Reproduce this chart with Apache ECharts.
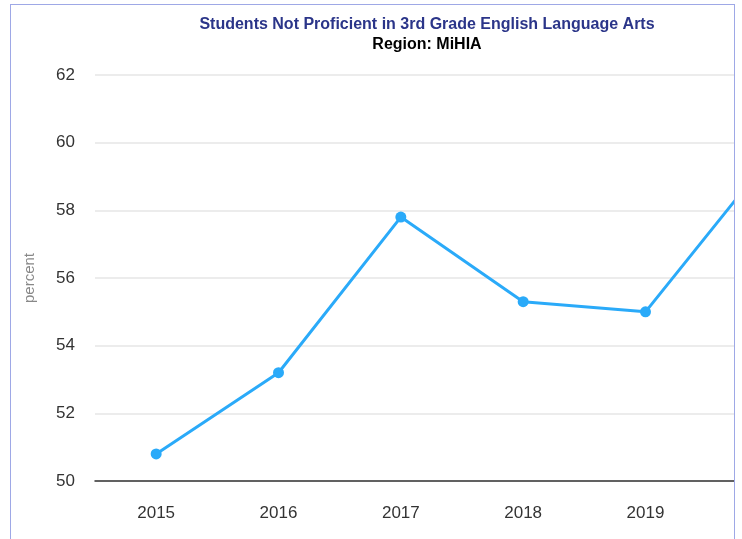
<!DOCTYPE html>
<html>
<head>
<meta charset="utf-8">
<script src="https://cdn.jsdelivr.net/npm/echarts@6/dist/echarts.min.js"></script>
<style>
    html, body { margin: 0; padding: 0; overflow: hidden; background: #fff; }
    .frame {
        position: absolute; left: 10px; top: 4px;
        width: 723px; height: 600px;
        border: 1px solid #9ea8e6;
        overflow: hidden;
    }
    #chart { width: 832px; height: 560px; }
</style>
</head>
<body>
<div class="frame"><div id="chart"></div></div>
<script>
    var years = ['2015', '2016', '2017', '2018', '2019', '2020']
    var notProficient = [50.8, 53.2, 57.8, 55.3, 55.0, 59.5]

    var myChart = echarts.init(document.getElementById('chart'))
    var option = {
        animation: false,
        title: {
            text: 'Students Not Proficient in 3rd Grade English Language Arts',
            subtext: 'Region: MiHIA',
            left: 'center',
            top: 7,
            itemGap: 4,
            textStyle: {
                fontFamily: 'Liberation Sans',
                fontSize: 16,
                fontWeight: 'bold',
                color: '#2b3589'
            },
            subtextStyle: {
                fontFamily: 'Liberation Sans',
                fontSize: 16,
                fontWeight: 'bold',
                color: '#000'
            }
        },
        grid: {
            left: 84,
            right: 14,
            top: 70,
            bottom: 84
        },
        xAxis: {
            type: 'category',
            data: years,
            boundaryGap: true,
            axisTick: { show: false },
            axisLine: {
                show: true,
                lineStyle: { color: '#333', width: 1.5 }
            },
            axisLabel: {
                margin: 24,
                fontFamily: 'Liberation Sans',
                fontSize: 17,
                color: '#333'
            }
        },
        yAxis: {
            type: 'value',
            min: 50,
            max: 62,
            interval: 2,
            name: 'percent',
            nameLocation: 'middle',
            nameGap: 58,
            nameTextStyle: {
                fontFamily: 'Liberation Sans',
                fontSize: 15,
                color: '#888'
            },
            axisLine: { show: false },
            axisTick: { show: false },
            axisLabel: {
                margin: 20,
                fontFamily: 'Liberation Sans',
                fontSize: 17,
                color: '#333'
            },
            splitLine: {
                lineStyle: { color: '#e6e6e6', width: 1.5 }
            }
        },
        series: [{
            type: 'line',
            data: notProficient,
            symbol: 'circle',
            symbolSize: 11,
            clip: false,
            lineStyle: { color: '#2aaaf9', width: 3 },
            itemStyle: { color: '#2aaaf9' }
        }]
    }
    myChart.setOption(option)
</script>
</body>
</html>
